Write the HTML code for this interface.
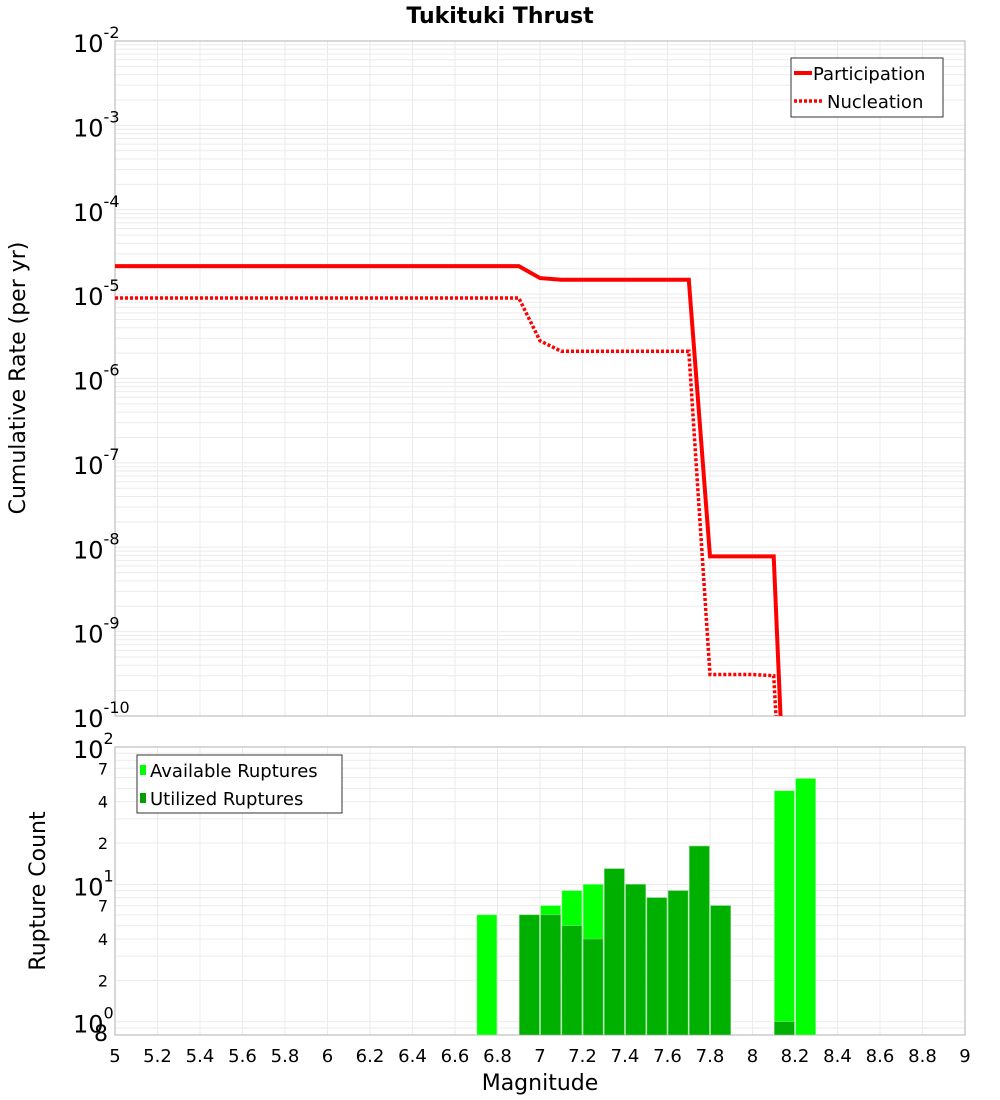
<!DOCTYPE html>
<html><head><meta charset="utf-8"><style>
body{margin:0;background:#fff;font-family:"DejaVu Sans","Liberation Sans",sans-serif}
svg{display:block}
</style></head><body>
<svg id="c" width="1000" height="1100" xmlns="http://www.w3.org/2000/svg">
<text x="500" y="23" text-anchor="middle" font-size="22" font-weight="bold">Tukituki Thrust</text>
<g id="top"></g>
<g id="bot"></g>
<text transform="translate(25,378) rotate(-90)" text-anchor="middle" font-size="22">Cumulative Rate (per yr)</text>
<text transform="translate(45,891) rotate(-90)" text-anchor="middle" font-size="22">Rupture Count</text>
<text x="540" y="1090" text-anchor="middle" font-size="22">Magnitude</text>
</svg>
<script>
const mags = [5.0,5.1,5.2,5.3,5.4,5.5,5.6,5.7,5.8,5.9,6.0,6.1,6.2,6.3,6.4,6.5,6.6,6.7,6.8,6.9,7.0,7.1,7.2,7.3,7.4,7.5,7.6,7.7,7.8,7.9,8.0,8.1,8.2];
const participation = [2.15e-5,2.15e-5,2.15e-5,2.15e-5,2.15e-5,2.15e-5,2.15e-5,2.15e-5,2.15e-5,2.15e-5,2.15e-5,2.15e-5,2.15e-5,2.15e-5,2.15e-5,2.15e-5,2.15e-5,2.15e-5,2.15e-5,2.15e-5,1.55e-5,1.48e-5,1.48e-5,1.48e-5,1.48e-5,1.48e-5,1.48e-5,1.48e-5,7.8e-9,7.8e-9,7.8e-9,7.8e-9,1e-14];
const nucleation = [9e-6,9e-6,9e-6,9e-6,9e-6,9e-6,9e-6,9e-6,9e-6,9e-6,9e-6,9e-6,9e-6,9e-6,9e-6,9e-6,9e-6,9e-6,9e-6,9e-6,2.8e-6,2.1e-6,2.1e-6,2.1e-6,2.1e-6,2.1e-6,2.1e-6,2.1e-6,3.1e-10,3.1e-10,3.1e-10,3.0e-10,1e-14];
const barMags = [6.75,6.95,7.05,7.15,7.25,7.35,7.45,7.55,7.65,7.75,7.85,8.15,8.25];
const available = [6,6,7,9,10,13,10,8,9,19,7,48,59];
const utilized = [0,6,6,5,4,13,10,8,9,19,7,1,0];
const xTicks = [5,5.2,5.4,5.6,5.8,6,6.2,6.4,6.6,6.8,7,7.2,7.4,7.6,7.8,8,8.2,8.4,8.6,8.8,9];
const xTickLabels = ["5","5.2","5.4","5.6","5.8","6","6.2","6.4","6.6","6.8","7","7.2","7.4","7.6","7.8","8","8.2","8.4","8.6","8.8","9"];
const rateDecades = [-2,-3,-4,-5,-6,-7,-8,-9,-10];
const countDecades = [2,1,0];

const NS="http://www.w3.org/2000/svg";
function mk(tag,attrs,parent,txt){const e=document.createElementNS(NS,tag);for(const k in attrs)e.setAttribute(k,attrs[k]);if(txt!==undefined)e.textContent=txt;parent.appendChild(e);return e;}
const L=115,R=965;
const X=m=>L+(m-5)/(9-5)*(R-L);
const T0=41,T1=716;
const YT=v=>T0+(-2-Math.log10(v))/8*(T1-T0);
const B0=747,B1=1035;
const bMin=0.8,bMax=100;
const YB=v=>B0+(Math.log10(bMax)-Math.log10(v))/(Math.log10(bMax)-Math.log10(bMin))*(B1-B0);

const topG=document.getElementById('top'), botG=document.getElementById('bot');
const defs=mk('defs',{},document.getElementById('c'));
const cp=mk('clipPath',{id:'cpt'},defs); mk('rect',{x:L,y:T0,width:R-L,height:T1-T0},cp);
const cpb=mk('clipPath',{id:'cpb'},defs); mk('rect',{x:L,y:B0,width:R-L,height:B1-B0},cpb);

const gt=mk('g',{stroke:'#ebebeb','stroke-width':1},topG);


for(let d=-10;d<-2;d++)for(let k=1;k<10;k++){const y=YT(k*Math.pow(10,d));if(y>=T0&&y<=T1)mk('line',{x1:L,x2:R,y1:y,y2:y},gt);}
xTicks.forEach(m=>mk('line',{x1:X(m),x2:X(m),y1:T0,y2:T1},gt));
const gb=mk('g',{stroke:'#ebebeb','stroke-width':1},botG);


for(let d=-1;d<2;d++)for(let k=1;k<10;k++){const v=k*Math.pow(10,d);if(v>=bMin&&v<=bMax)mk('line',{x1:L,x2:R,y1:YB(v),y2:YB(v)},gb);}
xTicks.forEach(m=>mk('line',{x1:X(m),x2:X(m),y1:B0,y2:B1},gb));

const f1=mk('rect',{x:L,y:T0,width:R-L,height:T1-T0,fill:'none',stroke:'#b0b0b0'},topG);


const f2=mk('rect',{x:L,y:B0,width:R-L,height:B1-B0,fill:'none',stroke:'#b0b0b0'},botG);



function path(vals){return vals.map((v,i)=>(i?'L':'M')+X(mags[i]).toFixed(1)+','+YT(v).toFixed(1)).join('');}
const lp=mk('path',{d:path(participation),fill:'none',stroke:'#ff0000','stroke-width':4,'clip-path':'url(#cpt)'},topG);


const ln=mk('path',{d:path(nucleation),fill:'none',stroke:'#ff0000','stroke-width':3.5,'stroke-dasharray':'3,2','clip-path':'url(#cpt)'},topG);



rateDecades.forEach(d=>{const y=YT(Math.pow(10,d));const t=mk('text',{x:73,y:y+11,'font-size':24},topG);


mk('tspan',{},t,'10');mk('tspan',{dy:-14,'font-size':16},t,String(d));});

const bw=20;
barMags.forEach((m,i)=>{
 const x=X(m)-bw/2;
 if(available[i]>0){const r=mk('rect',{x:x,y:YB(available[i]),width:bw,height:B1-YB(available[i]),fill:'#00ff00',stroke:'#9cf59c','stroke-width':0.6,'clip-path':'url(#cpb)'},botG);
 
 }
 if(utilized[i]>0){const r=mk('rect',{x:x,y:YB(utilized[i]),width:bw,height:B1-YB(utilized[i]),fill:'#00b000',stroke:'#7ed67e','stroke-width':0.6,'clip-path':'url(#cpb)'},botG);
 
 }
});

countDecades.forEach(d=>{const y=YB(Math.pow(10,d));const t=mk('text',{x:73,y:y+11,'font-size':24},botG);


mk('tspan',{},t,'10');mk('tspan',{dy:-14,'font-size':16},t,String(d));});
[[7,10],[4,10],[2,10],[7,1],[4,1],[2,1],[8,0.1]].forEach(([k,s])=>{const v=k*s;const y=YB(v);
 const t=mk('text',{x:108,y:y+6,'text-anchor':'end','font-size':s<1?22:16},botG,String(k));
 
 });

xTicks.forEach((m,i)=>{const t=mk('text',{x:X(m),y:1062,'text-anchor':'middle','font-size':18},botG,xTickLabels[i]);

});

const lg=mk('g',{},topG);


mk('rect',{x:791,y:58,width:152,height:59,fill:'#fff',stroke:'#333'},lg);
mk('line',{x1:794,x2:812,y1:73,y2:73,stroke:'#f00','stroke-width':4},lg);
mk('text',{x:813,y:80,'font-size':18},lg,'Participation');
mk('line',{x1:794,x2:822,y1:101,y2:101,stroke:'#f00','stroke-width':3.5,'stroke-dasharray':'3,2'},lg);
mk('text',{x:827,y:108,'font-size':18},lg,'Nucleation');

const lg2=mk('g',{},botG);


mk('rect',{x:137,y:755,width:205,height:58,fill:'#fff',stroke:'#333'},lg2);
mk('rect',{x:140,y:765,width:6,height:10,fill:'#00ff00'},lg2);
mk('text',{x:150,y:777,'font-size':18},lg2,'Available Ruptures');
mk('rect',{x:140,y:793,width:6,height:10,fill:'#00a000'},lg2);
mk('text',{x:150,y:805,'font-size':18},lg2,'Utilized Ruptures');
</script>
</body></html>
